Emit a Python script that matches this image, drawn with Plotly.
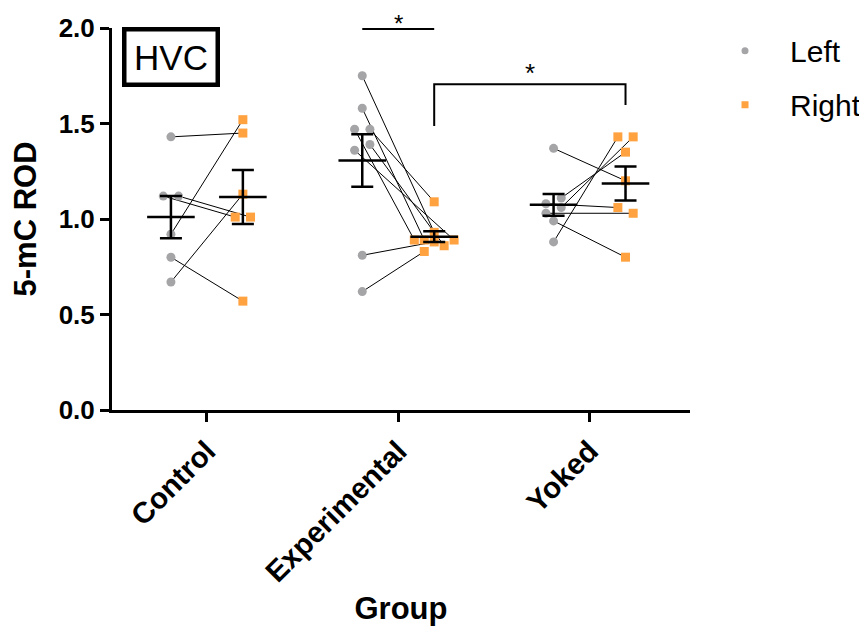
import numpy as np
import plotly.graph_objects as go

# ---------------- data ----------------
groups = ["Control", "Experimental", "Yoked"]
control_left = [1.43, 1.12, 1.12, 0.92, 0.80, 0.67]
control_right = [1.45, 1.01, 1.01, 1.52, 0.57, 1.13]
experimental_left = [1.75, 1.58, 1.47, 1.47, 1.39, 1.36, 0.81, 0.62]
experimental_right = [0.93, 0.89, 0.89, 1.09, 0.86, 0.89, 0.88, 0.83]
yoked_left = [1.37, 1.11, 1.08, 1.06, 1.03, 0.99, 0.88]
yoked_right = [1.20, 1.35, 1.06, 1.43, 1.03, 0.80, 1.43]
y_ticks = [0.0, 0.5, 1.0, 1.5, 2.0]
y_tick_labels = ["0.0", "0.5", "1.0", "1.5", "2.0"]

# ---------------- layout helpers (positions, not data) ----------------
side_offset = 0.188
left_jitter = [
    [0, -0.04, 0.04, 0, 0, 0],
    [0, 0, -0.04, 0.04, 0.04, -0.04, 0, 0],
    [0, 0.04, -0.04, 0.04, -0.04, 0, 0],
]
right_jitter = [
    [0, -0.04, 0.04, 0, 0, 0],
    [0, -0.052, -0.104, 0, 0.052, 0.104, 0, -0.052],
    [0, 0, -0.04, 0.04, 0.04, 0, -0.04],
]

GRAY = "#A5A5A8"
ORANGE = "#FFA23F"
FONT = "Liberation Sans, Arial, sans-serif"

lefts = [control_left, experimental_left, yoked_left]
rights = [control_right, experimental_right, yoked_right]

fig = go.Figure()

# connecting lines
lx, ly = [], []
for gi, (L, R) in enumerate(zip(lefts, rights)):
    for i in range(len(L)):
        lx += [gi - side_offset + left_jitter[gi][i], gi + side_offset + right_jitter[gi][i], None]
        ly += [L[i], R[i], None]
fig.add_trace(go.Scatter(x=lx, y=ly, mode="lines", line=dict(color="black", width=1),
                         showlegend=False, hoverinfo="skip"))

# points
px_l, py_l, px_r, py_r = [], [], [], []
for gi, (L, R) in enumerate(zip(lefts, rights)):
    for i in range(len(L)):
        px_l.append(gi - side_offset + left_jitter[gi][i]); py_l.append(L[i])
        px_r.append(gi + side_offset + right_jitter[gi][i]); py_r.append(R[i])
fig.add_trace(go.Scatter(x=px_l, y=py_l, mode="markers",
                         marker=dict(symbol="circle", size=9, color=GRAY),
                         showlegend=False))
fig.add_trace(go.Scatter(x=px_r, y=py_r, mode="markers",
                         marker=dict(symbol="square", size=9, color=ORANGE),
                         showlegend=False))

# mean +/- SEM
mx, my, me = [], [], []
for gi, (L, R) in enumerate(zip(lefts, rights)):
    for side, vals in ((-1, L), (1, R)):
        a = np.array(vals)
        mx.append(gi + side * side_offset)
        my.append(a.mean())
        me.append(a.std(ddof=1) / np.sqrt(len(a)))
fig.add_trace(go.Scatter(
    x=mx, y=my, mode="markers",
    marker=dict(symbol="line-ew", size=34, line=dict(color="black", width=2.5)),
    error_y=dict(type="data", array=me, visible=True, color="black", thickness=2.5, width=11),
    showlegend=False, hoverinfo="skip"))

# legend-only traces
fig.add_trace(go.Scatter(x=[None], y=[None], mode="markers", name="Left",
                         marker=dict(symbol="circle", size=7, color=GRAY), legendgroup="a"))
fig.add_trace(go.Scatter(x=[None], y=[None], mode="markers", name="Right",
                         marker=dict(symbol="square", size=7, color=ORANGE), legendgroup="b"))

# significance markers
fig.add_shape(type="line", x0=1 - side_offset, x1=1 + side_offset, y0=1.995, y1=1.995,
              line=dict(color="black", width=2))
fig.add_shape(type="path",
              path=f"M {1 + side_offset} 1.487 L {1 + side_offset} 1.705 L {2 + side_offset} 1.705 L {2 + side_offset} 1.597",
              line=dict(color="black", width=2))
fig.add_annotation(x=1, y=1.0497, xref="x", yref="y domain", text="*", showarrow=False,
                   font=dict(size=24, color="black", family=FONT), yanchor="top", borderpad=0)
fig.add_annotation(x=1.5 + side_offset, y=1.765, xref="x", yref="y", text="*", showarrow=False,
                   font=dict(size=26, color="black", family=FONT), yanchor="middle")

# HVC label box
fig.add_annotation(x=-side_offset, y=1.85, text="HVC", showarrow=False, xref="x", yref="y",
                   font=dict(size=35, color="black", family=FONT),
                   bordercolor="black", borderwidth=4.5, borderpad=0, width=89, height=51,
                   bgcolor="white")

fig.update_layout(
    width=859, height=620,
    margin=dict(l=104, r=177, t=20, b=218, autoexpand=False),
    plot_bgcolor="white", paper_bgcolor="white",
    font=dict(family=FONT, color="black"),
    legend=dict(xref="container", yref="container", x=0.8056, y=0.973, xanchor="left", yanchor="top",
                font=dict(size=30, family=FONT, color="black"), itemwidth=80,
                tracegroupgap=12, bgcolor="rgba(0,0,0,0)"),
    showlegend=True,
)
fig.update_xaxes(
    range=[-0.496, 2.525], tickmode="array", tickvals=[0, 1, 2], ticktext=groups,
    tickangle=-45, tickfont=dict(size=29.5, family=FONT, color="black", weight="bold"),
    showline=True, linecolor="black", linewidth=3, ticks="outside", ticklen=9, tickwidth=3,
    tickcolor="black", showgrid=False, zeroline=False, automargin=False,
    title=dict(text="<b>Group</b>", font=dict(size=31, family=FONT, color="black"), standoff=10),
)
fig.update_yaxes(
    range=[0, 2.0], tickmode="array", tickvals=y_ticks, ticktext=y_tick_labels,
    tickfont=dict(size=26, family=FONT, color="black", weight="bold"),
    showline=True, linecolor="black", linewidth=3, ticks="outside", ticklen=9, tickwidth=3,
    tickcolor="black", showgrid=False, zeroline=False, automargin=False,
    title=dict(text="<b>5-mC ROD</b>", font=dict(size=31, family=FONT, color="black"), standoff=20),
)

fig.write_html("out.html")
